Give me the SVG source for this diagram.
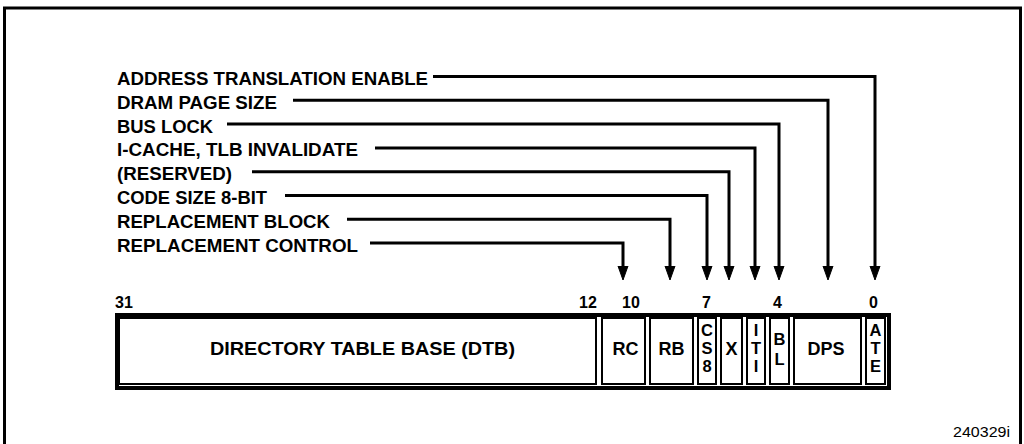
<svg xmlns="http://www.w3.org/2000/svg" width="1024" height="444" viewBox="0 0 1024 444">
<defs>
<style>
.lbl{font-family:"Liberation Sans",Arial,sans-serif;font-weight:bold;font-size:18px;fill:#000}
.num{font-family:"Liberation Sans",Arial,sans-serif;font-weight:bold;font-size:16px;fill:#000}
.fld{font-family:"Liberation Sans",Arial,sans-serif;font-weight:bold;font-size:18px;fill:#000;text-anchor:middle}
.stk{font-family:"Liberation Sans",Arial,sans-serif;font-weight:bold;font-size:16.5px;fill:#000;text-anchor:middle}
.box{fill:#fff;stroke:#000;stroke-width:2}
.conn{fill:none;stroke:#000;stroke-width:3;marker-end:url(#ah)}
</style>
<marker id="ah" markerUnits="userSpaceOnUse" markerWidth="16" markerHeight="12" refX="0" refY="5.5" orient="auto" viewBox="0 0 16 12">
<polygon points="0,0.5 14,5.5 0,10.5" fill="#000" stroke="#000" stroke-width="1" stroke-linejoin="round"/>
</marker>
</defs>
<rect x="4.5" y="8" width="1016" height="450" fill="#fff" stroke="#000" stroke-width="3"/>

<g id="connectors">
<path class="conn" d="M433,76.5 H875 V266"/>
<path class="conn" d="M293,100.3 H828 V266"/>
<path class="conn" d="M227,124.1 H779 V266"/>
<path class="conn" d="M375,147.9 H755 V266"/>
<path class="conn" d="M252,171.7 H729 V266"/>
<path class="conn" d="M285,195.5 H707 V266"/>
<path class="conn" d="M347,219.3 H670 V266"/>
<path class="conn" d="M370,243.1 H623 V266"/>
</g>

<g id="labels">
<text class="lbl" x="117" y="85" textLength="311" lengthAdjust="spacingAndGlyphs">ADDRESS TRANSLATION ENABLE</text>
<text class="lbl" x="117" y="108.8" textLength="160" lengthAdjust="spacingAndGlyphs">DRAM PAGE SIZE</text>
<text class="lbl" x="117" y="132.6" textLength="96" lengthAdjust="spacingAndGlyphs">BUS LOCK</text>
<text class="lbl" x="117" y="156.4" textLength="241" lengthAdjust="spacingAndGlyphs">I-CACHE, TLB INVALIDATE</text>
<text class="lbl" x="117" y="180.2" textLength="115" lengthAdjust="spacingAndGlyphs">(RESERVED)</text>
<text class="lbl" x="117" y="204" textLength="150" lengthAdjust="spacingAndGlyphs">CODE SIZE 8-BIT</text>
<text class="lbl" x="117" y="227.8" textLength="213" lengthAdjust="spacingAndGlyphs">REPLACEMENT BLOCK</text>
<text class="lbl" x="117" y="251.6" textLength="241" lengthAdjust="spacingAndGlyphs">REPLACEMENT CONTROL</text>
</g>

<g id="bits">
<text class="num" x="115" y="308">31</text>
<text class="num" x="579" y="308">12</text>
<text class="num" x="622" y="308">10</text>
<text class="num" x="702" y="308">7</text>
<text class="num" x="773" y="308">4</text>
<text class="num" x="869" y="308">0</text>
</g>

<g id="register">
<rect x="117" y="315" width="772" height="73" fill="#fff" stroke="#000" stroke-width="4"/>
<g id="dtb"><rect class="box" x="119" y="318" width="477" height="66"/><text class="fld" x="362.5" y="354.5" textLength="305" lengthAdjust="spacingAndGlyphs">DIRECTORY TABLE BASE (DTB)</text></g>
<g id="rc"><rect class="box" x="602" y="318" width="43" height="66"/><text class="fld" x="625.5" y="354.5">RC</text></g>
<g id="rb"><rect class="box" x="650" y="318" width="43" height="66"/><text class="fld" x="671.5" y="354.5">RB</text></g>
<g id="cs8"><rect class="box" x="698" y="318" width="18" height="66"/><text class="stk" x="707" y="336">C</text><text class="stk" x="707" y="354">S</text><text class="stk" x="707" y="372">8</text></g>
<g id="x"><rect class="box" x="721" y="318" width="21" height="66"/><text class="fld" x="731.5" y="354.5">X</text></g>
<g id="iti"><rect class="box" x="747" y="318" width="18" height="66"/><text class="stk" x="756" y="336">I</text><text class="stk" x="756" y="354">T</text><text class="stk" x="756" y="372">I</text></g>
<g id="bl"><rect class="box" x="770" y="318" width="19" height="66"/><text class="stk" x="779.5" y="345">B</text><text class="stk" x="779.5" y="365">L</text></g>
<g id="dps"><rect class="box" x="794" y="318" width="67" height="66"/><text class="fld" x="826" y="354.5">DPS</text></g>
<g id="ate"><rect class="box" x="866" y="318" width="19" height="66"/><text class="stk" x="875.5" y="336">A</text><text class="stk" x="875.5" y="354">T</text><text class="stk" x="875.5" y="372">E</text></g>
</g>

<text x="953" y="437" font-family="Liberation Sans, Arial, sans-serif" font-size="14" textLength="57" lengthAdjust="spacingAndGlyphs">240329i</text>
</svg>
